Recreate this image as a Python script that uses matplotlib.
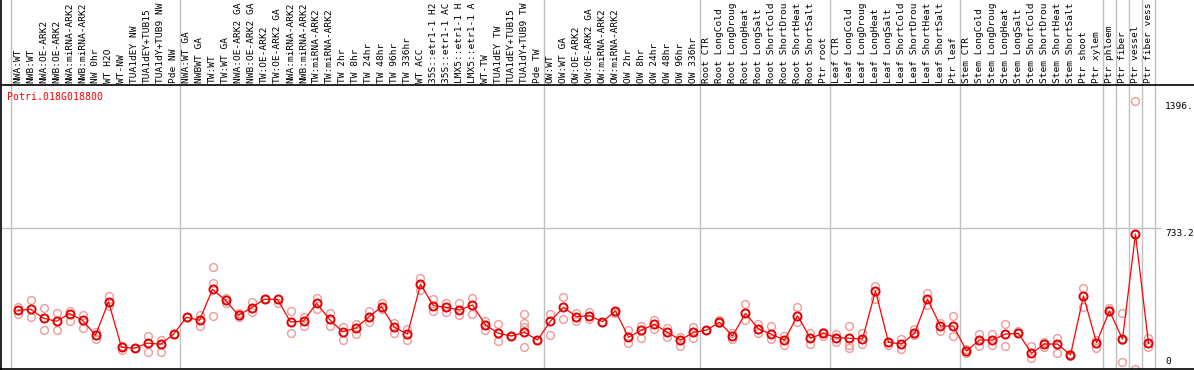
import numpy as np
import matplotlib
matplotlib.use("Agg")
import matplotlib.pyplot as plt

# column labels, cut to 14 characters as the original header shows them
labels = [
    "NWA:WT", "NWB:WT", "NWA:OE-ARK2", "NWB:OE-ARK2", "NWA:miRNA-ARK2", "NWB:miRNA-ARK2",
    "NW 0hr", "WT H2O", "WT-NW", "TUA1dEY NW", "TUA1dEY+TUB15", "TUA1dY+TUB9 NW", "Pde NW",
    "NWA:WT GA", "NWBWT GA", "TW:WT", "TW:WT GA", "NWA:OE-ARK2 GA", "NWB:OE-ARK2 GA",
    "TW:OE-ARK2", "TW:OE-ARK2 GA", "NWA:miRNA-ARK2", "NWB:miRNA-ARK2", "TW:miRNA-ARK2",
    "TW:miRNA-ARK2", "TW 2hr", "TW 8hr", "TW 24hr", "TW 48hr", "TW 96hr", "TW 336hr", "WT ACC",
    "35S::etr1-1 H2", "35S::etr1-1 AC", "LMX5::etr1-1 H", "LMX5::etr1-1 A", "WT-TW",
    "TUA1dEY TW", "TUA1dEY+TUB15", "TUA1dY+TUB9 TW", "Pde TW",
    "OW:WT", "OW:WT GA", "OW:OE-ARK2", "OW:OE-ARK2 GA", "OW:miRNA-ARK2", "OW:miRNA-ARK2",
    "OW 2hr", "OW 8hr", "OW 24hr", "OW 48hr", "OW 96hr", "OW 336hr",
    "Root CTR", "Root LongCold", "Root LongDroug", "Root LongHeat", "Root LongSalt",
    "Root ShortCold", "Root ShortDrou", "Root ShortHeat", "Root ShortSalt", "Ptr root",
    "Leaf CTR", "Leaf LongCold", "Leaf LongDroug", "Leaf LongHeat", "Leaf LongSalt",
    "Leaf ShortCold", "Leaf ShortDrou", "Leaf ShortHeat", "Leaf ShortSalt", "Ptr leaf",
    "Stem CTR", "Stem LongCold", "Stem LongDroug", "Stem LongHeat", "Stem LongSalt",
    "Stem ShortCold", "Stem ShortDrou", "Stem ShortHeat", "Stem ShortSalt",
    "Ptr shoot", "Ptr xylem", "Ptr phloem", "Ptr fiber", "Ptr vessel", "Ptr fiber vess",
]

# mean expression per sample
means = [
    304, 310, 263, 247, 287, 252, 174, 349, 111, 106, 133, 127, 179,
    268, 252, 414, 357, 278, 318, 362, 362, 243, 248, 341, 257, 192, 210, 268, 323, 215, 180,
    440, 328, 320, 306, 332, 228, 184, 170, 189, 149,
    248, 320, 271, 276, 245, 301, 163, 201, 231, 189, 149, 189,
    201, 242, 170, 289, 207, 179, 149, 276, 158, 184,
    161, 158, 154, 406, 137, 128, 184, 363, 222, 222,
    92, 149, 149, 180, 184, 79, 128, 128, 71, 379,
    135, 301, 154, 703, 132,
]

# individual replicates
rep_a = [
    323, 358, 315, 289, 302, 280, 189, 379, 118, 106, 170, 149, 179,
    268, 280, 529, 367, 289, 346, 362, 362, 301, 271, 370, 289, 215, 233, 301, 344, 240, 205,
    472, 362, 341, 344, 370, 250, 233, 170, 285, 149,
    285, 376, 292, 297, 241, 301, 201, 222, 254, 213, 166, 219,
    201, 254, 187, 336, 231, 222, 170, 320, 187, 192,
    179, 222, 184, 433, 137, 153, 205, 393, 240, 276,
    100, 180, 180, 233, 198, 118, 140, 158, 76, 419,
    149, 318, 289, 1396.6, 158,
]
rep_b = [
    285, 271, 201, 201, 247, 213, 153, 327, 97, 106, 88, 88, 179,
    268, 222, 446, 344, 271, 295, 362, 344, 184, 222, 310, 222, 149, 180, 245, 310, 187, 149,
    411, 301, 297, 280, 285, 201, 144, 170, 111, 149,
    175, 257, 250, 259, 241, 292, 132, 161, 207, 163, 119, 158,
    201, 236, 153, 254, 184, 153, 123, 242, 128, 170,
    140, 106, 127, 362, 123, 100, 175, 332, 198, 170,
    83, 119, 123, 119, 184, 53, 114, 79, 65, 323,
    106, 306, 32, 0, 114,
]
nan = np.nan
rep_c = [nan] * len(means)
rep_c[15] = 275
rep_c[39] = 240
rep_c[64] = 123
rep_c[85] = 149
rep_c[86] = 703
rep_d = [nan] * len(means)
rep_d[39] = 219

# group boundaries (sample index where a new block starts)
group_starts = [0, 13, 41, 53, 63, 73, 84, 85, 86, 87, 88]
tick_values = [1396.6, 733.2, 0]
tick_texts = ["1396.", "733.2", "0"]
gene = "Potri.018G018800"

W, H = 1194, 370
fig = plt.figure(figsize=(W / 100, H / 100), dpi=100)

x0, x1 = 1, 1162
y_hdr, y_bot = 85, 368.5
xlim = (-1.27, 88.04)
ylim = (0, (y_bot - y_hdr) * 733.2 / (y_bot - 228.3))

ax = fig.add_axes([x0 / W, (H - y_bot) / H, (x1 - x0) / W, (y_bot - y_hdr) / H])
hdr = fig.add_axes([x0 / W, (H - y_hdr) / H, (x1 - x0) / W, y_hdr / H])
for a in (ax, hdr):
    a.set_xlim(*xlim)
    a.axis("off")
ax.set_ylim(*ylim)
hdr.set_ylim(0, 1)

x = np.arange(len(means))

# separators through header and plot
for g in group_starts:
    for a in (ax, hdr):
        a.axvline(g - 0.5, color="#c0c0c0", lw=1.0, zorder=1)
ax.axhline(733.2, color="#c0c0c0", lw=1.0, zorder=1)

# replicates then means
pink = "#ee9a9a"
for reps in (rep_a, rep_b, rep_c, rep_d):
    ax.plot(x, reps, ls="none", marker="o", ms=5.6, mfc="none", mec=pink, mew=1.0,
            zorder=2, clip_on=False)
ax.plot(x, means, color="red", lw=0.9, marker="o", ms=5.8, mfc="none", mec="#e00000",
        mew=1.4, zorder=3)

mono = "DejaVu Sans Mono"
for i, lab in enumerate(labels):
    hdr.text(i, 0.025, lab, rotation=90, ha="center", va="bottom", fontsize=6.8,
             family=mono)

# frame lines
fig.add_artist(plt.Line2D([0, 1], [(H - y_hdr) / H] * 2, color="black", lw=1.2))
fig.add_artist(plt.Line2D([0, 1], [(H - y_bot) / H] * 2, color="black", lw=1.2))
fig.add_artist(plt.Line2D([1 / W] * 2, [0, 1], color="black", lw=1.2))

fig.text(7 / W, (H - 97) / H, gene, color="red", fontsize=7.1, family=mono,
         ha="left", va="center")

for v, t in zip(tick_values, tick_texts):
    yv = y_bot - v * (y_bot - 228.3) / 733.2
    if v == 0:
        fig.text(1165 / W, (H - 366) / H, t, fontsize=6.8, family=mono, ha="left", va="bottom")
    else:
        fig.text(1165 / W, (H - yv - 0.5) / H, t, fontsize=6.8, family=mono, ha="left", va="top")

fig.savefig("out.png", dpi=100)
